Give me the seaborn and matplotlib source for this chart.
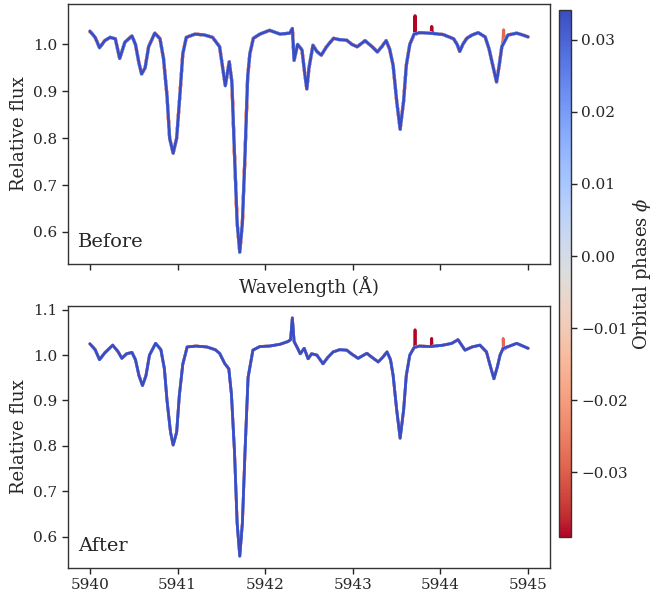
import numpy as np
import pandas as pd
import matplotlib
matplotlib.use("Agg")
import matplotlib.pyplot as plt
import seaborn as sns
from matplotlib.colors import Normalize
from matplotlib.cm import ScalarMappable

# Orbital phases of the exposures
phases = [-0.0389, -0.0337, -0.0285, -0.0233, -0.0181, -0.0129, -0.0077, -0.0025,
          0.0027, 0.0079, 0.0131, 0.0183, 0.0235, 0.0288, 0.0341]

# Normalised spectrum before telluric correction
wave_before = [5940.00, 5940.06, 5940.11, 5940.17, 5940.23, 5940.29, 5940.34, 5940.40,
               5940.48, 5940.52, 5940.56, 5940.59, 5940.63, 5940.67, 5940.74, 5940.80,
               5940.84, 5940.88, 5940.91, 5940.95, 5940.99, 5941.03, 5941.06, 5941.10,
               5941.20, 5941.31, 5941.40, 5941.48, 5941.545, 5941.59, 5941.62, 5941.65,
               5941.68, 5941.71, 5941.74, 5941.77, 5941.80, 5941.825, 5941.865, 5941.94,
               5942.05, 5942.17, 5942.28, 5942.31, 5942.33, 5942.37, 5942.42, 5942.45,
               5942.475, 5942.50, 5942.545, 5942.59, 5942.64, 5942.70, 5942.78, 5942.85,
               5942.93, 5942.99, 5943.05, 5943.14, 5943.22, 5943.28, 5943.33, 5943.38,
               5943.42, 5943.46, 5943.50, 5943.54, 5943.58, 5943.61, 5943.65, 5943.70,
               5943.76, 5943.88, 5944.03, 5944.11, 5944.15, 5944.19, 5944.22, 5944.255,
               5944.30, 5944.36, 5944.43, 5944.51, 5944.555, 5944.585, 5944.64, 5944.67,
               5944.70, 5944.77, 5944.87, 5944.94, 5945.00]
flux_before = [1.028, 1.015, 0.993, 1.008, 1.015, 1.012, 0.970, 1.005,
               1.018, 1.000, 0.960, 0.937, 0.950, 0.995, 1.024, 1.012,
               0.970, 0.890, 0.800, 0.768, 0.800, 0.900, 0.980, 1.015,
               1.022, 1.020, 1.015, 0.995, 0.912, 0.963, 0.920, 0.765,
               0.620, 0.557, 0.620, 0.765, 0.930, 0.980, 1.013, 1.022,
               1.030, 1.022, 1.024, 1.034, 0.966, 1.000, 0.988, 0.940,
               0.905, 0.950, 0.998, 0.985, 0.977, 0.995, 1.013, 1.010,
               1.009, 1.000, 0.995, 1.008, 0.995, 0.984, 0.995, 1.008,
               0.990, 0.955, 0.880, 0.819, 0.880, 0.955, 1.000, 1.022,
               1.025, 1.024, 1.021, 1.015, 1.012, 1.000, 0.985, 1.000,
               1.013, 1.020, 1.025, 1.016, 0.990, 0.965, 0.920, 0.955,
               0.995, 1.020, 1.024, 1.020, 1.016]

# Normalised spectrum after telluric correction
wave_after = [5940.00, 5940.06, 5940.11, 5940.17, 5940.26, 5940.32, 5940.365, 5940.42,
              5940.48, 5940.52, 5940.56, 5940.60, 5940.64, 5940.68, 5940.75, 5940.81,
              5940.85, 5940.88, 5940.92, 5940.95, 5940.99, 5941.02, 5941.06, 5941.11,
              5941.21, 5941.335, 5941.43, 5941.48, 5941.54, 5941.585, 5941.615, 5941.65,
              5941.68, 5941.71, 5941.74, 5941.77, 5941.805, 5941.86, 5941.94, 5942.05,
              5942.17, 5942.26, 5942.29, 5942.31, 5942.33, 5942.37, 5942.40, 5942.445,
              5942.49, 5942.53, 5942.59, 5942.66, 5942.715, 5942.775, 5942.85, 5942.93,
              5942.99, 5943.06, 5943.16, 5943.22, 5943.29, 5943.34, 5943.39, 5943.43,
              5943.46, 5943.50, 5943.54, 5943.58, 5943.61, 5943.65, 5943.70, 5943.76,
              5943.88, 5944.03, 5944.13, 5944.20, 5944.28, 5944.36, 5944.45, 5944.525,
              5944.57, 5944.61, 5944.65, 5944.68, 5944.715, 5944.79, 5944.87, 5944.94,
              5945.00]
flux_after = [1.025, 1.012, 0.990, 1.005, 1.022, 1.008, 0.993, 1.003,
              1.006, 0.990, 0.955, 0.933, 0.955, 1.000, 1.026, 1.012,
              0.970, 0.900, 0.830, 0.802, 0.830, 0.910, 0.980, 1.018,
              1.020, 1.018, 1.012, 1.004, 0.981, 0.970, 0.914, 0.787,
              0.630, 0.557, 0.630, 0.787, 0.951, 1.011, 1.019, 1.020,
              1.024, 1.030, 1.034, 1.082, 1.030, 1.015, 1.003, 1.015,
              0.992, 1.003, 1.000, 0.981, 0.995, 1.007, 1.012, 1.011,
              1.002, 0.993, 1.004, 0.995, 0.985, 0.995, 1.007, 0.990,
              0.955, 0.880, 0.817, 0.880, 0.955, 1.000, 1.017, 1.020,
              1.019, 1.022, 1.026, 1.034, 1.011, 1.018, 1.022, 1.007,
              0.975, 0.948, 0.975, 1.000, 1.015, 1.020, 1.026, 1.020,
              1.015]

# Cosmic-ray hits: (exposure index, wavelength, peak flux, local continuum)
spikes_before = [(0, 5943.71, 1.061, 1.022), (0, 5943.90, 1.038, 1.024),
                 (2, 5944.72, 1.031, 1.010)]
spikes_after = [(0, 5943.71, 1.056, 1.017), (0, 5943.90, 1.037, 1.019),
                (2, 5944.715, 1.037, 1.012)]

vmin, vmax = -0.0389, 0.0341


def build_frame(wave, flux, spikes):
    rows = []
    for i, ph in enumerate(phases):
        w = list(wave)
        f = list(flux)
        for idx, wl, peak, base in spikes:
            if idx == i:
                w += [wl - 0.005, wl, wl + 0.005]
                f += [base, peak, base]
        rows.append(pd.DataFrame({"wavelength": w, "flux": f, "phase": ph}))
    return pd.concat(rows, ignore_index=True)


df_before = build_frame(wave_before, flux_before, spikes_before)
df_after = build_frame(wave_after, flux_after, spikes_after)

sns.set_theme(style="ticks")
plt.rcParams["font.family"] = ["DejaVu Serif"]
plt.rcParams["mathtext.fontset"] = "dejavuserif"
plt.rcParams["axes.linewidth"] = 1.0
plt.rcParams["axes.edgecolor"] = "#333333"
plt.rcParams["xtick.major.size"] = 4
plt.rcParams["ytick.major.size"] = 4
plt.rcParams["xtick.major.width"] = 1.0
plt.rcParams["ytick.major.width"] = 1.0

fig = plt.figure(figsize=(6.53, 5.94), dpi=100)
ax1 = fig.add_axes([0.1041, 0.5556, 0.7382, 0.4377])
ax2 = fig.add_axes([0.1041, 0.0438, 0.7382, 0.4410])
cax = fig.add_axes([0.856, 0.0965, 0.0185, 0.8867])

for ax, df, name, (lw_first, lw_last) in [(ax1, df_before, "Before", (2.3, 1.7)),
                                          (ax2, df_after, "After", (2.0, 1.7))]:
    sns.lineplot(data=df, x="wavelength", y="flux", hue="phase",
                 palette="coolwarm_r", hue_norm=(vmin, vmax),
                 estimator=None, legend=False, linewidth=1.7, ax=ax)
    # earlier exposures drawn slightly wider so their edges show beneath later ones
    n = len(ax.lines)
    for k, line in enumerate(ax.lines):
        line.set_linewidth(lw_first + (lw_last - lw_first) * k / max(n - 1, 1))
    ax.set_xticks([5940, 5941, 5942, 5943, 5944, 5945])
    ax.set_ylabel("Relative flux", fontsize=13)
    ax.tick_params(labelsize=11)
    ax.text(0.02, 0.05, name, transform=ax.transAxes, fontsize=14,
            ha="left", va="bottom")

ax1.set_xlabel("Wavelength (Å)", fontsize=13, labelpad=5)
ax1.tick_params(axis="x", labelbottom=False)
ax2.set_xlabel("")

sm = ScalarMappable(norm=Normalize(vmin, vmax), cmap="coolwarm_r")
cb = fig.colorbar(sm, cax=cax)
cb.set_label(r"Orbital phases $\phi$", fontsize=13, labelpad=2)
cb.ax.tick_params(labelsize=11)

fig.savefig("out.png", dpi=100)
